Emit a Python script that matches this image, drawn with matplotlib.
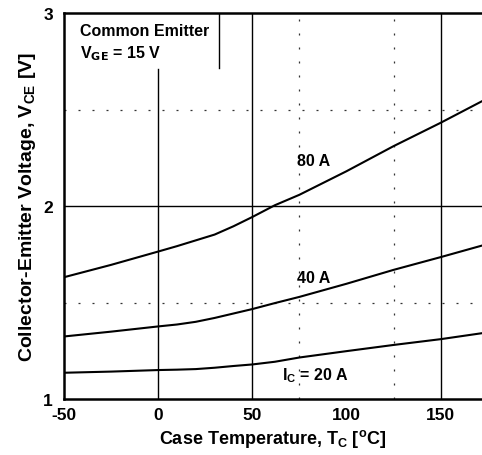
import numpy as np
import matplotlib.pyplot as plt
from matplotlib.patches import Rectangle

plt.rcParams['font.family'] = ['Liberation Sans', 'DejaVu Sans']
plt.rcParams['font.weight'] = 'bold'

# Case temperature (deg C) and V_CE(sat) for each collector current
temp = [-50, -25, 0, 10, 20, 30, 40, 50, 62, 75, 100, 125, 150, 172]
vce_80a = [1.631, 1.695, 1.764, 1.792, 1.822, 1.852, 1.895, 1.943, 2.004,
           2.058, 2.180, 2.310, 2.431, 2.543]
vce_40a = [1.324, 1.349, 1.376, 1.386, 1.400, 1.420, 1.443, 1.466, 1.497,
           1.529, 1.597, 1.669, 1.735, 1.795]
vce_20a = [1.136, 1.142, 1.150, 1.152, 1.155, 1.162, 1.171, 1.179, 1.193,
           1.215, 1.248, 1.280, 1.310, 1.341]

x_ticks = [-50, 0, 50, 100, 150]
x_tick_labels = ['-50', '0', '50', '100', '150']
y_ticks = [1, 2, 3]

fig = plt.figure(figsize=(4.82, 4.56), dpi=100)
ax = fig.add_axes([0.1328, 0.1228, 0.8672, 0.8465])

ax.set_xlim(-50, 172)
ax.set_ylim(1, 3)

dots = (0, (1.6, 9.6))

# grid: solid and dotted reference lines
for xv in [50, 150]:
    ax.axvline(xv, color='black', lw=1.0, zorder=1)
ax.plot([0, 0], [1, 2.712], color='black', lw=1.0, zorder=1)
for xv in [75, 125]:
    ax.axvline(xv, color='#333333', lw=0.9, ls=dots, zorder=1)
ax.axhline(2, color='black', lw=1.0, zorder=1)
for yv in [1.5, 2.5]:
    ax.axhline(yv, color='#333333', lw=0.9, ls=dots, zorder=1)

# box for the test conditions
ax.add_patch(Rectangle((-50, 2.717), 82.3, 0.283, facecolor='white',
                       edgecolor='none', zorder=2))
ax.plot([32.3, 32.3], [2.717, 3], color='black', lw=1.0, zorder=3)
ax.text(-41.3, 2.909, 'Common Emitter', fontsize=11.5, fontweight='bold',
        va='center', ha='left', zorder=4)
ax.text(-41.3, 2.795, r'V$_{\mathbf{GE}}$ = 15 V', fontsize=11.5,
        fontweight='bold', va='center', ha='left', zorder=4)

for v in [vce_80a, vce_40a, vce_20a]:
    ax.plot(temp, v, color='black', lw=1.5, zorder=5)

ax.text(74, 2.236, '80 A', fontsize=11.5, fontweight='bold', va='center', zorder=6)
ax.text(74, 1.628, '40 A', fontsize=11.5, fontweight='bold', va='center', zorder=6)
ax.text(66, 1.126, r'I$_\mathregular{C}$ = 20 A', fontsize=11.5,
        fontweight='bold', va='center', zorder=6)

ax.set_xticks(x_ticks)
ax.set_xticklabels(x_tick_labels)
ax.set_yticks(y_ticks)
ax.tick_params(length=0, labelsize=12.5, pad=6)
ax.tick_params(axis='y', pad=8)
for lab in ax.get_xticklabels() + ax.get_yticklabels():
    lab.set_fontweight('bold')

for side in ['left', 'bottom', 'top']:
    ax.spines[side].set_linewidth(1.8)
ax.spines['right'].set_visible(False)

ax.set_xlabel(r'Case Temperature, T$_\mathregular{C}$ [$^\mathregular{o}$C]',
              fontsize=13, fontweight='bold', labelpad=3)
ax.set_ylabel(r'Collector-Emitter Voltage, V$_\mathregular{CE}$ [V]',
              fontsize=14, fontweight='bold', labelpad=4)

fig.savefig('out.png', dpi=100)
